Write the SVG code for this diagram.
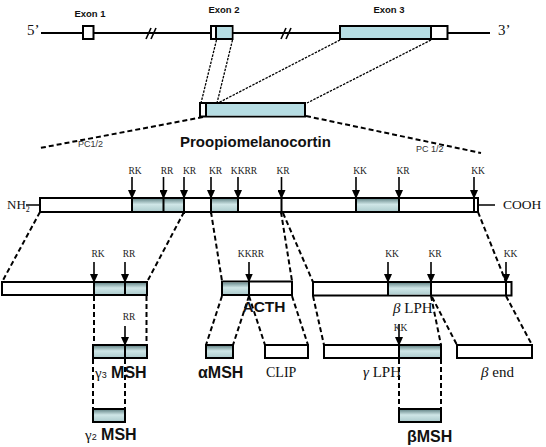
<svg xmlns="http://www.w3.org/2000/svg" width="546" height="447" viewBox="0 0 546 447">
<style>
.box{stroke:#000;stroke-width:2;fill:#fff}
.sh{fill:url(#shg);stroke:none}
.blue{fill:#b6dde3;stroke:none}
.div{stroke:#000;stroke-width:2}
.dash{stroke:#000;stroke-width:2;stroke-dasharray:5 3;fill:none}
.dot{stroke:#000;stroke-width:1.3;stroke-dasharray:2.5 1.2;fill:none}
.arr{stroke:#000;stroke-width:1.6;marker-end:url(#ah)}
.site{font-family:"Liberation Serif",serif;font-size:9.5px;fill:#222;text-anchor:middle}
.ser{font-family:"Liberation Serif",serif;fill:#111}
.bold{font-family:"Liberation Sans",Arial,sans-serif;font-weight:bold;fill:#111}
.pc{font-family:"Liberation Sans",Arial,sans-serif;font-size:9px;fill:#333}
</style>
<defs>
<linearGradient id="shg" x1="0" y1="0" x2="0" y2="1">
<stop offset="0" stop-color="#6f8f91"/>
<stop offset="0.45" stop-color="#cfe6e7"/>
<stop offset="1" stop-color="#b0ced0"/>
</linearGradient>
<marker id="ah" viewBox="0 0 9 8" refX="9" refY="4" markerWidth="9" markerHeight="8" markerUnits="userSpaceOnUse" orient="auto">
<path d="M0,0 L9,4 L0,8 z" fill="#000"/>
</marker>
</defs>
<rect width="546" height="447" fill="#fff"/>

<g id="connectors">
<line class="dot" x1="216.5" y1="40" x2="201" y2="103"/>
<line class="dot" x1="232.5" y1="40" x2="217" y2="103"/>
<line class="dot" x1="340" y1="40" x2="218" y2="103"/>
<line class="dot" x1="431" y1="40" x2="307" y2="103"/>
<line class="dash" x1="203" y1="117" x2="40" y2="148"/>
<line class="dash" x1="306" y1="116" x2="481" y2="153"/>
<line class="dash" x1="40" y1="212" x2="2" y2="282"/>
<line class="dash" x1="184" y1="212" x2="147" y2="282"/>
<line class="dash" x1="211" y1="212" x2="222" y2="281"/>
<line class="dash" x1="281" y1="212" x2="292" y2="281"/>
<line class="dash" x1="283" y1="213" x2="313" y2="282"/>
<line class="dash" x1="478" y1="212" x2="506" y2="282"/>
<line class="dash" x1="94" y1="296" x2="94" y2="345"/>
<line class="dash" x1="146.5" y1="296" x2="146.5" y2="345"/>
<line class="dash" x1="222" y1="296" x2="206" y2="345"/>
<line class="dash" x1="249" y1="296" x2="233" y2="345"/>
<line class="dash" x1="249" y1="296" x2="265" y2="345"/>
<line class="dash" x1="292" y1="296" x2="308" y2="345"/>
<line class="dash" x1="313" y1="296" x2="324" y2="345"/>
<line class="dash" x1="431" y1="296" x2="441" y2="345"/>
<line class="dash" x1="432" y1="297" x2="457" y2="345"/>
<line class="dash" x1="506" y1="296" x2="532" y2="345"/>
<line class="dash" x1="93" y1="359" x2="93" y2="409"/>
<line class="dash" x1="125" y1="359" x2="125" y2="409"/>
<line class="dash" x1="399" y1="359" x2="399" y2="409"/>
<line class="dash" x1="441" y1="359" x2="441" y2="409"/>
</g>

<g id="gene">
<line x1="41" y1="33" x2="490" y2="33" stroke="#000" stroke-width="2"/>
<text class="ser" x="27" y="35" font-size="15">5’</text>
<text class="ser" x="498" y="35" font-size="15">3’</text>
<g stroke="#000" stroke-width="1.6">
<line x1="146" y1="39" x2="151" y2="28"/><line x1="151" y1="39" x2="156" y2="28"/>
<line x1="281" y1="39" x2="286" y2="28"/><line x1="286" y1="39" x2="291" y2="28"/>
</g>
</g>
<g id="exon1">
<rect class="box" x="83" y="26" width="10.5" height="13"/>
<text class="bold" x="90" y="16.5" font-size="9.5" text-anchor="middle">Exon 1</text>
</g>
<g id="exon2">
<rect class="box" x="211" y="26" width="21.5" height="13"/>
<rect class="blue" x="216" y="27" width="15.5" height="11"/>
<line class="div" x1="216" y1="26" x2="216" y2="39"/>
<text class="bold" x="224" y="12.5" font-size="9.5" text-anchor="middle">Exon 2</text>
</g>
<g id="exon3">
<rect class="box" x="340" y="26" width="107.5" height="13"/>
<rect class="blue" x="341" y="27" width="90" height="11"/>
<line class="div" x1="431" y1="26" x2="431" y2="39"/>
<text class="bold" x="389" y="12.5" font-size="9.5" text-anchor="middle">Exon 3</text>
</g>

<g id="precursor">
<rect class="box" x="200" y="103" width="105" height="13.5"/>
<rect class="blue" x="206" y="104" width="98" height="11.5"/>
<line class="div" x1="206" y1="103" x2="206" y2="116.5"/>
<text class="bold" x="180" y="147" font-size="15">Proopiomelanocortin</text>
<text class="pc" x="78" y="147">PC1/2</text>
<text class="pc" x="416" y="152">PC 1/2</text>
</g>

<g id="pomc">
<rect class="box" x="40" y="198" width="438" height="14"/>
<rect class="sh" x="132" y="199" width="52" height="12"/>
<rect class="sh" x="211" y="199" width="27" height="12"/>
<rect class="sh" x="356" y="199" width="43" height="12"/>
<g class="div">
<line x1="132" y1="198" x2="132" y2="212"/><line x1="163.5" y1="198" x2="163.5" y2="212"/>
<line x1="184" y1="198" x2="184" y2="214"/><line x1="211" y1="198" x2="211" y2="214"/>
<line x1="238" y1="198" x2="238" y2="212"/><line x1="281.5" y1="198" x2="281.5" y2="214"/>
<line x1="356" y1="198" x2="356" y2="212"/><line x1="399" y1="198" x2="399" y2="212"/>
<line x1="474" y1="198" x2="474" y2="212"/>
</g>
<line x1="26" y1="205" x2="40" y2="205" stroke="#000" stroke-width="1.5"/>
<text class="ser" x="7" y="209" font-size="13">NH<tspan font-size="8" dy="3">2</tspan></text>
<line x1="478" y1="205" x2="495" y2="205" stroke="#000" stroke-width="1.5"/>
<text class="ser" x="503" y="209" font-size="13.5">COOH</text>
<g>
<line class="arr" x1="132" y1="177" x2="132" y2="199"/>
<line class="arr" x1="163.5" y1="177" x2="163.5" y2="199"/>
<line class="arr" x1="184" y1="177" x2="184" y2="199"/>
<line class="arr" x1="211" y1="177" x2="211" y2="199"/>
<line class="arr" x1="238" y1="177" x2="238" y2="199"/>
<line class="arr" x1="281.5" y1="177" x2="281.5" y2="199"/>
<line class="arr" x1="356" y1="177" x2="356" y2="199"/>
<line class="arr" x1="399" y1="177" x2="399" y2="199"/>
<line class="arr" x1="474" y1="177" x2="474" y2="199"/>
</g>
<text class="site" x="135" y="174">RK</text>
<text class="site" x="167" y="174">RR</text>
<text class="site" x="189.5" y="174">KR</text>
<text class="site" x="215.5" y="174">KR</text>
<text class="site" x="244" y="174">KKRR</text>
<text class="site" x="283" y="174">KR</text>
<text class="site" x="360" y="174">KK</text>
<text class="site" x="403" y="174">KR</text>
<text class="site" x="478" y="174">KK</text>
</g>

<g id="frag-nterm">
<rect class="box" x="2" y="282" width="145" height="13"/>
<rect class="sh" x="94" y="283" width="52" height="11"/>
<line class="div" x1="94" y1="282" x2="94" y2="295"/>
<line class="div" x1="125" y1="282" x2="125" y2="295"/>
<line class="arr" x1="94" y1="262" x2="94" y2="283"/>
<line class="arr" x1="125" y1="262" x2="125" y2="283"/>
<text class="site" x="98" y="256.5">RK</text>
<text class="site" x="129" y="256.5">RR</text>
</g>
<g id="frag-acth">
<rect class="box" x="222" y="281.5" width="70" height="13.5"/>
<rect class="sh" x="223" y="282.5" width="26" height="11.5"/>
<line class="div" x1="249" y1="281.5" x2="249" y2="295"/>
<line class="arr" x1="249" y1="262" x2="249" y2="282.5"/>
<text class="site" x="251" y="256.5">KKRR</text>
<text class="bold" x="264" y="312" font-size="15.5" text-anchor="middle">ACTH</text>
</g>
<g id="frag-blph">
<rect class="box" x="313" y="282" width="198.5" height="13.5"/>
<rect class="sh" x="388" y="283" width="43" height="11.5"/>
<line class="div" x1="388" y1="282" x2="388" y2="295.5"/>
<line class="div" x1="431" y1="282" x2="431" y2="295.5"/>
<line class="div" x1="506" y1="282" x2="506" y2="295.5"/>
<line class="arr" x1="388" y1="262" x2="388" y2="283"/>
<line class="arr" x1="431" y1="262" x2="431" y2="283"/>
<line class="arr" x1="506" y1="262" x2="506" y2="283"/>
<text class="site" x="392" y="256.5">KK</text>
<text class="site" x="435" y="256.5">KR</text>
<text class="site" x="510.5" y="256.5">KK</text>
<text class="ser" x="393" y="313" font-size="15"><tspan font-style="italic">β</tspan> LPH</text>
</g>

<g id="gamma3msh">
<rect class="box" x="93" y="345" width="54" height="13"/>
<rect class="sh" x="94" y="346" width="52" height="11"/>
<line class="div" x1="125" y1="345" x2="125" y2="358"/>
<line class="arr" x1="125" y1="326" x2="125" y2="346"/>
<text class="site" x="129" y="320">RR</text>
<text class="bold" x="95" y="377.5" font-size="16"><tspan class="ser" font-weight="normal" font-size="15">γ</tspan><tspan font-size="9" font-weight="normal">3</tspan> MSH</text>
</g>
<g id="alphamsh">
<rect class="box" x="206" y="345" width="27" height="13"/>
<rect class="sh" x="207" y="346" width="25" height="11"/>
<text class="bold" x="198" y="377.5" font-size="16">αMSH</text>
</g>
<g id="clip">
<rect class="box" x="265" y="345" width="43" height="13"/>
<text class="ser" x="266" y="377" font-size="14">CLIP</text>
</g>
<g id="gammalph">
<rect class="box" x="324" y="345" width="117" height="13"/>
<rect class="sh" x="399" y="346" width="41" height="11"/>
<line class="div" x1="399" y1="345" x2="399" y2="358"/>
<line class="arr" x1="399" y1="324" x2="399" y2="346"/>
<text class="site" x="400.5" y="330.5">KK</text>
<text class="ser" x="363" y="377" font-size="15"><tspan font-style="italic">γ</tspan> LPH</text>
</g>
<g id="betaend">
<rect class="box" x="457" y="345" width="75" height="13"/>
<text class="ser" x="481" y="377" font-size="15"><tspan font-style="italic">β</tspan> end</text>
</g>
<g id="gamma2msh">
<rect class="box" x="93" y="409" width="32" height="13"/>
<rect class="sh" x="94" y="410" width="30" height="11"/>
<text class="bold" x="85" y="440" font-size="16"><tspan class="ser" font-weight="normal" font-size="15">γ</tspan><tspan font-size="9" font-weight="normal">2</tspan> MSH</text>
</g>
<g id="betamsh">
<rect class="box" x="399" y="409" width="42" height="13"/>
<rect class="sh" x="400" y="410" width="40" height="11"/>
<text class="bold" x="407" y="442" font-size="16">βMSH</text>
</g>
</svg>
